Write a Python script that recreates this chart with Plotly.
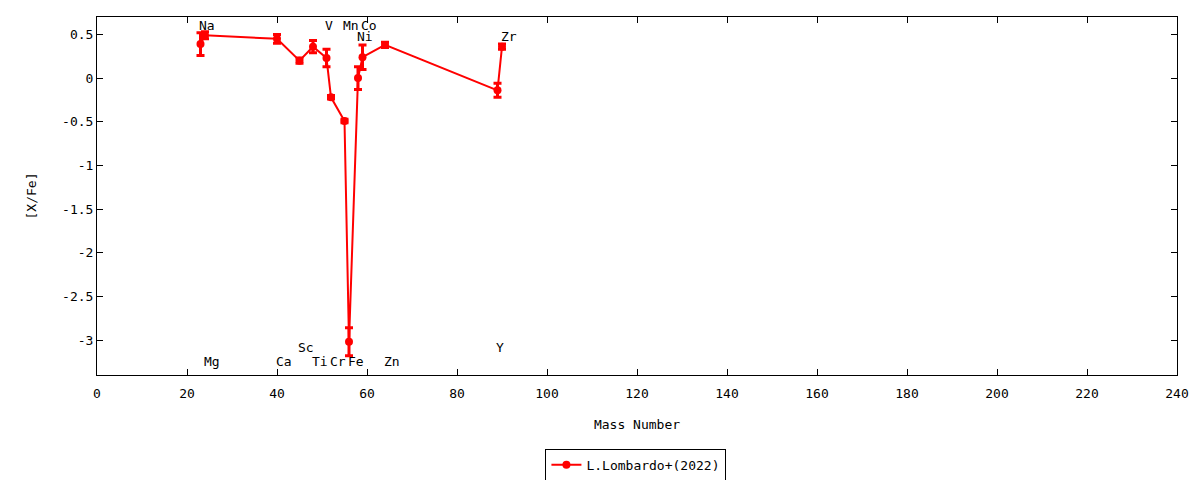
import plotly.graph_objs as go

# abundance pattern, L.Lombardo+(2022)
elements = ["Na", "Mg", "Ca", "Sc", "Ti", "V", "Cr", "Mn", "Fe", "Ni", "Co", "Zn", "Y", "Zr"]
mass = [23, 24, 40, 45, 48, 51, 52, 55, 56, 58, 59, 64, 89, 90]
xfe = [0.39, 0.49, 0.45, 0.20, 0.36, 0.23, -0.22, -0.49, -3.02, 0.00, 0.24, 0.38, -0.14, 0.36]
xfe_err = [0.13, 0.04, 0.05, 0.03, 0.07, 0.10, 0.02, 0.02, 0.16, 0.13, 0.14, 0.03, 0.08, 0.03]

# where the element names sit on the plot
label_y = [0.6, -3.25, -3.25, -3.09, -3.25, 0.6, -3.25, 0.6, -3.25, 0.48, 0.6, -3.25, -3.09, 0.48]

x_ticks = list(range(0, 241, 20))
y_ticks = [0.5, 0, -0.5, -1, -1.5, -2, -2.5, -3]
y_ticktext = ["0.5", "0", "-0.5", "-1", "-1.5", "-2", "-2.5", "-3"]

FONT = "DejaVu Sans Mono"

trace = go.Scatter(x=mass, y=xfe,
                   mode='lines+markers',
                   line=dict(color='red', width=2),
                   marker=dict(color='red', size=8, symbol='circle'),
                   error_y=dict(type='data', array=xfe_err, visible=True,
                                color='red', thickness=3, width=4),
                   name="L.Lombardo+(2022)")

annotations = []
for el, m, ly in zip(elements, mass, label_y):
    annotations.append(dict(x=m - 0.7, y=ly, text=el, showarrow=False,
                            xanchor='left', yanchor='middle',
                            font=dict(family=FONT, size=13, color='black')))

axis_common = dict(showgrid=False, zeroline=False, showline=True, linecolor='black',
                   linewidth=1, mirror='ticks', ticks='inside', ticklen=6,
                   tickcolor='black', automargin=False,
                   tickfont=dict(family=FONT, size=13, color='black'))

# page body has an 8px margin, so the figure is a bit smaller than the window
layout = dict(
    width=1192, height=472,
    paper_bgcolor='white', plot_bgcolor='white',
    margin=dict(l=89, r=23, t=9, b=105, autoexpand=False),
    font=dict(family=FONT, size=13, color='black'),
    xaxis=dict(range=[0, 240], tickvals=x_ticks, ticklabelstandoff=6,
               title=dict(text='Mass Number', standoff=20,
                          font=dict(family=FONT, size=13)), **axis_common),
    yaxis=dict(range=[-3.4, 0.7], tickvals=y_ticks, ticktext=y_ticktext,
               title=dict(text='[X/Fe]', standoff=22,
                          font=dict(family=FONT, size=13)), **axis_common),
    showlegend=True,
    legend=dict(x=0.499, y=-0.251, xanchor='center', yanchor='middle',
                bordercolor='black', borderwidth=1, bgcolor='white',
                font=dict(family=FONT, size=13)),
    annotations=annotations,
)

fig = go.Figure(data=[trace], layout=layout)
fig.write_html("out.html")
